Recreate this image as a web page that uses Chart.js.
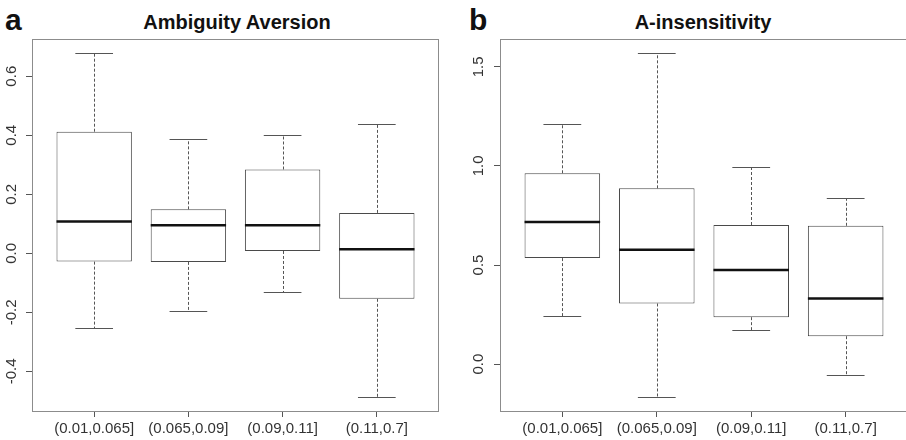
<!DOCTYPE html>
<html>
<head>
<meta charset="utf-8">
<script src="https://cdn.jsdelivr.net/npm/chart.js@4.4.0/dist/chart.umd.min.js"></script>
<style>
  html, body { margin: 0; padding: 0; background: #fff; overflow: hidden; }
  body { width: 906px; height: 440px; position: relative; font-family: "Liberation Sans", Arial, sans-serif; }
  .wrap { position: absolute; top: 0; height: 440px; }
  .letra { position: absolute; top: 5px; font-weight: bold; font-size: 30px; line-height: 1; color: #111; }
  .titulo { position: absolute; top: 12px; font-weight: bold; font-size: 20px; line-height: 1; color: #111; text-align: center; width: 300px; }
</style>
</head>
<body>
<div class="letra" style="left:5px">a</div>
<div class="titulo" style="left:87px">Ambiguity Aversion</div>
<div class="letra" style="left:469px">b</div>
<div class="titulo" style="left:553px">A-insensitivity</div>
<div class="wrap" style="left:0; width:453px"><canvas id="graficoA" width="453" height="440"></canvas></div>
<div class="wrap" style="left:455px; width:453px"><canvas id="graficoB" width="453" height="440"></canvas></div>
<script>
// categorias (faixas)
var categorias = ['(0.01,0.065]', '(0.065,0.09]', '(0.09,0.11]', '(0.11,0.7]'];
var posicoes = [1, 2, 3, 4];

// Ambiguity Aversion (painel a)
var aversaoMin = [-0.253, -0.195, -0.130, -0.487];
var aversaoQ1 = [-0.028, -0.029, 0.008, -0.154];
var aversaoMediana = [0.108, 0.095, 0.095, 0.014];
var aversaoQ3 = [0.412, 0.149, 0.284, 0.137];
var aversaoMax = [0.679, 0.388, 0.401, 0.437];
var ticksA = [-0.4, -0.2, 0.0, 0.2, 0.4, 0.6];
var rotulosA = ['-0.4', '-0.2', '0.0', '0.2', '0.4', '0.6'];

// A-insensitivity (painel b)
var insensMin = [0.244, -0.167, 0.172, -0.056];
var insensQ1 = [0.535, 0.306, 0.237, 0.141];
var insensMediana = [0.717, 0.577, 0.475, 0.331];
var insensQ3 = [0.963, 0.887, 0.702, 0.698];
var insensMax = [1.212, 1.571, 0.995, 0.838];
var ticksB = [0.0, 0.5, 1.0, 1.5];
var rotulosB = ['0.0', '0.5', '1.0', '1.5'];

var fonte = '"Liberation Sans", Arial, sans-serif';

// desenha moldura, bigodes e medianas usando as escalas do grafico
var pluginBoxplot = {
  id: 'boxplot',
  afterDatasetsDraw: function (chart) {
    var ctx = chart.ctx;
    var x = chart.scales.x;
    var y = chart.scales.y;
    var d = chart.config.options.plugins.boxplot;
    var a = chart.chartArea;

    ctx.save();
    ctx.strokeStyle = '#8c8c8c';
    ctx.lineWidth = 1;
    ctx.strokeRect(Math.round(a.left) + 0.5, Math.round(a.top) + 0.5, Math.round(a.right - a.left) - 1, Math.round(a.bottom - a.top));

    for (var i = 0; i < posicoes.length; i++) {
      var cx = Math.round(x.getPixelForValue(posicoes[i])) + 0.5;
      var capE = x.getPixelForValue(posicoes[i] - 0.2);
      var capD = x.getPixelForValue(posicoes[i] + 0.2);
      var boxE = x.getPixelForValue(posicoes[i] - 0.4);
      var boxD = x.getPixelForValue(posicoes[i] + 0.4);
      var pMax = Math.round(y.getPixelForValue(d.max[i])) + 0.5;
      var pMin = Math.round(y.getPixelForValue(d.min[i])) + 0.5;
      var pQ3 = y.getPixelForValue(d.q3[i]);
      var pQ1 = y.getPixelForValue(d.q1[i]);
      var pMed = y.getPixelForValue(d.mediana[i]);

      // bigodes tracejados
      ctx.strokeStyle = '#555';
      ctx.lineWidth = 1;
      ctx.setLineDash([3, 2]);
      ctx.beginPath();
      ctx.moveTo(cx, pQ3);
      ctx.lineTo(cx, pMax);
      ctx.moveTo(cx, pQ1);
      ctx.lineTo(cx, pMin);
      ctx.stroke();

      // hastes
      ctx.setLineDash([]);
      ctx.beginPath();
      ctx.moveTo(capE, pMax);
      ctx.lineTo(capD, pMax);
      ctx.moveTo(capE, pMin);
      ctx.lineTo(capD, pMin);
      ctx.stroke();

      // mediana
      ctx.strokeStyle = '#111';
      ctx.lineWidth = 2.5;
      ctx.beginPath();
      ctx.moveTo(boxE, pMed);
      ctx.lineTo(boxD, pMed);
      ctx.stroke();
    }
    ctx.restore();
  }
};

function criarPainel(id, dados, ticksY, rotulosY, yMin, yMax, larguraY, padY, padDireita) {
  var caixas = posicoes.map(function (p, i) {
    return { x: p, y: [dados.q1[i], dados.q3[i]] };
  });

  var config = {
    type: 'bar',
    data: {
      datasets: [{
        data: caixas,
        backgroundColor: '#ffffff',
        borderColor: '#4a4a4a',
        borderWidth: 1,
        borderSkipped: false,
        categoryPercentage: 0.8,
        barPercentage: 1.0
      }]
    },
    options: {
      responsive: false,
      animation: false,
      layout: { padding: { top: 39, right: padDireita, left: 0, bottom: 0 } },
      plugins: {
        legend: { display: false },
        tooltip: { enabled: false },
        boxplot: dados
      },
      scales: {
        x: {
          type: 'linear',
          min: 0.34,
          max: 4.66,
          offset: false,
          grid: { offset: false, drawOnChartArea: false, drawTicks: true, tickLength: 6, color: '#555', tickColor: '#555' },
          border: { display: false },
          afterBuildTicks: function (scale) {
            scale.ticks = posicoes.map(function (v) { return { value: v }; });
          },
          afterFit: function (scale) { scale.height = 29; },
          ticks: {
            autoSkip: false,
            maxRotation: 0,
            padding: 3,
            color: '#333',
            font: { family: fonte, size: 15 },
            callback: function (v) { return categorias[posicoes.indexOf(v)]; }
          }
        },
        y: {
          type: 'linear',
          min: yMin,
          max: yMax,
          grid: { drawOnChartArea: false, drawTicks: true, tickLength: 6, color: '#555', tickColor: '#555' },
          border: { display: false },
          afterBuildTicks: function (scale) {
            scale.ticks = ticksY.map(function (v) { return { value: v }; });
          },
          afterFit: function (scale) { scale.width = larguraY; },
          ticks: {
            autoSkip: false,
            minRotation: 90,
            maxRotation: 90,
            crossAlign: 'center',
            padding: padY,
            color: '#333',
            font: { family: fonte, size: 15 },
            callback: function (v) { return rotulosY[ticksY.indexOf(v)]; }
          }
        }
      }
    },
    plugins: [pluginBoxplot]
  };

  return new Chart(document.getElementById(id).getContext('2d'), config);
}

criarPainel('graficoA', {
  min: aversaoMin, q1: aversaoQ1, mediana: aversaoMediana, q3: aversaoQ3, max: aversaoMax
}, ticksA, rotulosA, -0.534, 0.726, 32, 1, 14);

criarPainel('graficoB', {
  min: insensMin, q1: insensQ1, mediana: insensMediana, q3: insensQ3, max: insensMax
}, ticksB, rotulosB, -0.2365, 1.6405, 45, 4.5, 0);
</script>
</body>
</html>
